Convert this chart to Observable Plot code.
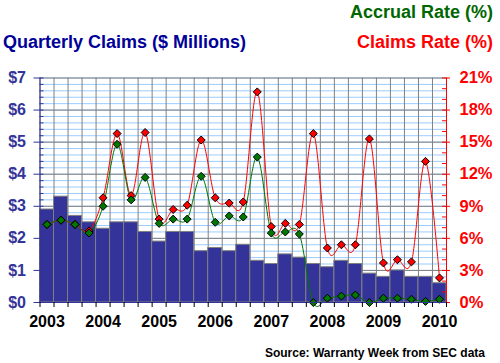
<!DOCTYPE html>
<html><head><meta charset="utf-8">
<script src="https://cdn.jsdelivr.net/npm/d3@7"></script>
<script src="https://cdn.jsdelivr.net/npm/@observablehq/plot@0.6"></script>
<style>
body{margin:0;background:#fff;}
#wrap{position:relative;width:500px;height:363px;overflow:hidden;font-family:"Liberation Sans",Arial,sans-serif;font-weight:bold;}
#chart{position:absolute;left:0;top:0;}
.t{position:absolute;white-space:nowrap;line-height:1;}
</style></head><body>
<div id="wrap">
<div id="chart"></div>
<div class="t" style="right:7px;top:3px;font-size:18px;color:#006600">Accrual Rate (%)</div>
<div class="t" style="right:7px;top:33px;font-size:18px;color:#ff0000">Claims Rate (%)</div>
<div class="t" style="left:3px;top:33px;font-size:18px;color:#000099">Quarterly Claims ($ Millions)</div>
<div class="t" style="right:15px;top:347px;font-size:12px;color:#000">Source: Warranty Week from SEC data</div>
</div>
<script>
const quarters = ["2003 Q1","2003 Q2","2003 Q3","2003 Q4","2004 Q1","2004 Q2","2004 Q3","2004 Q4",
  "2005 Q1","2005 Q2","2005 Q3","2005 Q4","2006 Q1","2006 Q2","2006 Q3","2006 Q4",
  "2007 Q1","2007 Q2","2007 Q3","2007 Q4","2008 Q1","2008 Q2","2008 Q3","2008 Q4",
  "2009 Q1","2009 Q2","2009 Q3","2009 Q4","2010 Q1"];
const claims = [2.9, 3.3, 2.7, 2.5, 2.3, 2.5, 2.5, 2.2, 1.9, 2.2, 2.2, 1.6, 1.7, 1.6, 1.8, 1.3, 1.2, 1.5, 1.4, 1.2, 1.1, 1.3, 1.2, 0.9, 0.8, 1.0, 0.8, 0.8, 0.6];
const claimsRate = [7.3, 7.7, 7.3, 6.7, 9.8, 15.8, 10.0, 15.9, 7.8, 8.7, 9.1, 15.2, 9.8, 9.3, 9.4, 19.7, 7.1, 7.4, 7.3, 15.8, 5.1, 5.4, 5.4, 15.3, 3.7, 4.0, 3.8, 13.2, 2.3];
const accrualRate = [7.3, 7.7, 7.3, 6.5, 9.0, 14.8, 9.6, 11.7, 7.4, 7.8, 7.8, 11.8, 7.5, 8.1, 8.0, 13.6, 6.5, 6.6, 6.4, 0.0, 0.4, 0.6, 0.7, 0.0, 0.4, 0.4, 0.3, 0.1, 0.3];
const leftTicks = [0, 1, 2, 3, 4, 5, 6, 7];
const leftMinor = [0,0.2,0.4,0.6,0.8,1,1.2,1.4,1.6,1.8,2,2.2,2.4,2.6,2.8,3,3.2,3.4,3.6,3.8,4,4.2,4.4,4.6,4.8,5,5.2,5.4,5.6,5.8,6,6.2,6.4,6.6,6.8,7];
const rightTicks = [0, 3, 6, 9, 12, 15, 18, 21];
const rightMinor = [0,1,2,3,4,5,6,7,8,9,10,11,12,13,14,15,16,17,18,19,20,21];

const rows = quarters.map((q, i) => ({i, q, year: q.slice(0, 4), claims: claims[i], claimsRate: claimsRate[i], accrualRate: accrualRate[i]}));
const yearRows = rows.filter(d => d.q.endsWith("Q1"));
const bounds = d3.range(quarters.length + 1);

const X0 = 39.5, X1 = 446, Y0 = 302, Y1 = 77.5;
const n = quarters.length;
const ux = px => px * n / (X1 - X0);
const uy = px => px * 7 / (Y0 - Y1);
const BLUE = "#333399", GRAY = "#808080", LIGHT = "#99ccff", RED = "#ff0000", GREEN = "#007700";

const chart = Plot.plot({
  width: 500, height: 363,
  marginLeft: X0, marginRight: 500 - X1, marginTop: Y1, marginBottom: 363 - Y0,
  x: {domain: [0, n], range: [X0, X1], axis: null},
  y: {domain: [0, 7], range: [Y0, Y1], axis: null},
  style: {background: "transparent", fontFamily: "Liberation Sans, Arial, sans-serif", overflow: "visible"},
  marks: [
    Plot.ruleY(leftMinor, {y: d => d, stroke: LIGHT}),
    Plot.ruleY(leftTicks, {y: d => d, stroke: GRAY}),
    Plot.ruleX(bounds, {x: d => d, stroke: GRAY}),
    Plot.rectY(rows, {x1: "i", x2: d => d.i + 1, y: "claims", fill: BLUE, stroke: GRAY, inset: 0}),
    Plot.line(rows, {x: d => d.i + 0.5, y: d => d.claimsRate / 3, stroke: RED, strokeWidth: 1, curve: "cardinal"}),
    Plot.line(rows, {x: d => d.i + 0.5, y: d => d.accrualRate / 3, stroke: GREEN, strokeWidth: 1, curve: "cardinal"}),
    Plot.dot(rows, {x: d => d.i + 0.5, y: d => d.claimsRate / 3, symbol: "diamond2", r: 3.6, fill: RED, stroke: "#000", strokeWidth: 1}),
    Plot.dot(rows, {x: d => d.i + 0.5, y: d => d.accrualRate / 3, symbol: "diamond2", r: 3.6, fill: GREEN, stroke: "#000", strokeWidth: 1}),
    // left axis
    Plot.ruleX([0], {x: d => d, stroke: BLUE}),
    Plot.ruleY(leftMinor, {y: d => d, x1: 0, x2: ux(4), stroke: BLUE}),
    Plot.ruleY(leftTicks, {y: d => d, x1: -ux(6), x2: 0, stroke: BLUE}),
    Plot.text(leftTicks, {x: 0, y: d => d, text: d => "$" + d, textAnchor: "end", dx: -14, fill: BLUE, fontSize: 16, fontWeight: "bold"}),
    // right axis
    Plot.ruleX([n], {x: d => d, stroke: RED}),
    Plot.ruleY(rightMinor, {y: d => d / 3, x1: n - ux(4), x2: n, stroke: RED}),
    Plot.ruleY(rightTicks, {y: d => d / 3, x1: n, x2: n + ux(4), stroke: RED}),
    Plot.text(rightTicks, {x: n, y: d => d / 3, text: d => d + "%", textAnchor: "start", dx: 13, fill: RED, fontSize: 16.5, fontWeight: "bold"}),
    // bottom axis
    Plot.ruleY([0], {y: d => d, stroke: BLUE}),
    Plot.ruleX(bounds, {x: d => d, y1: 0, y2: -uy(5), stroke: "#000"}),
    Plot.text(yearRows, {x: d => d.i + 0.5, y: 0, dy: 19, text: "year", fill: "#000", fontSize: 16, fontWeight: "bold"})
  ]
});
document.getElementById("chart").appendChild(chart);
</script>
</body></html>
